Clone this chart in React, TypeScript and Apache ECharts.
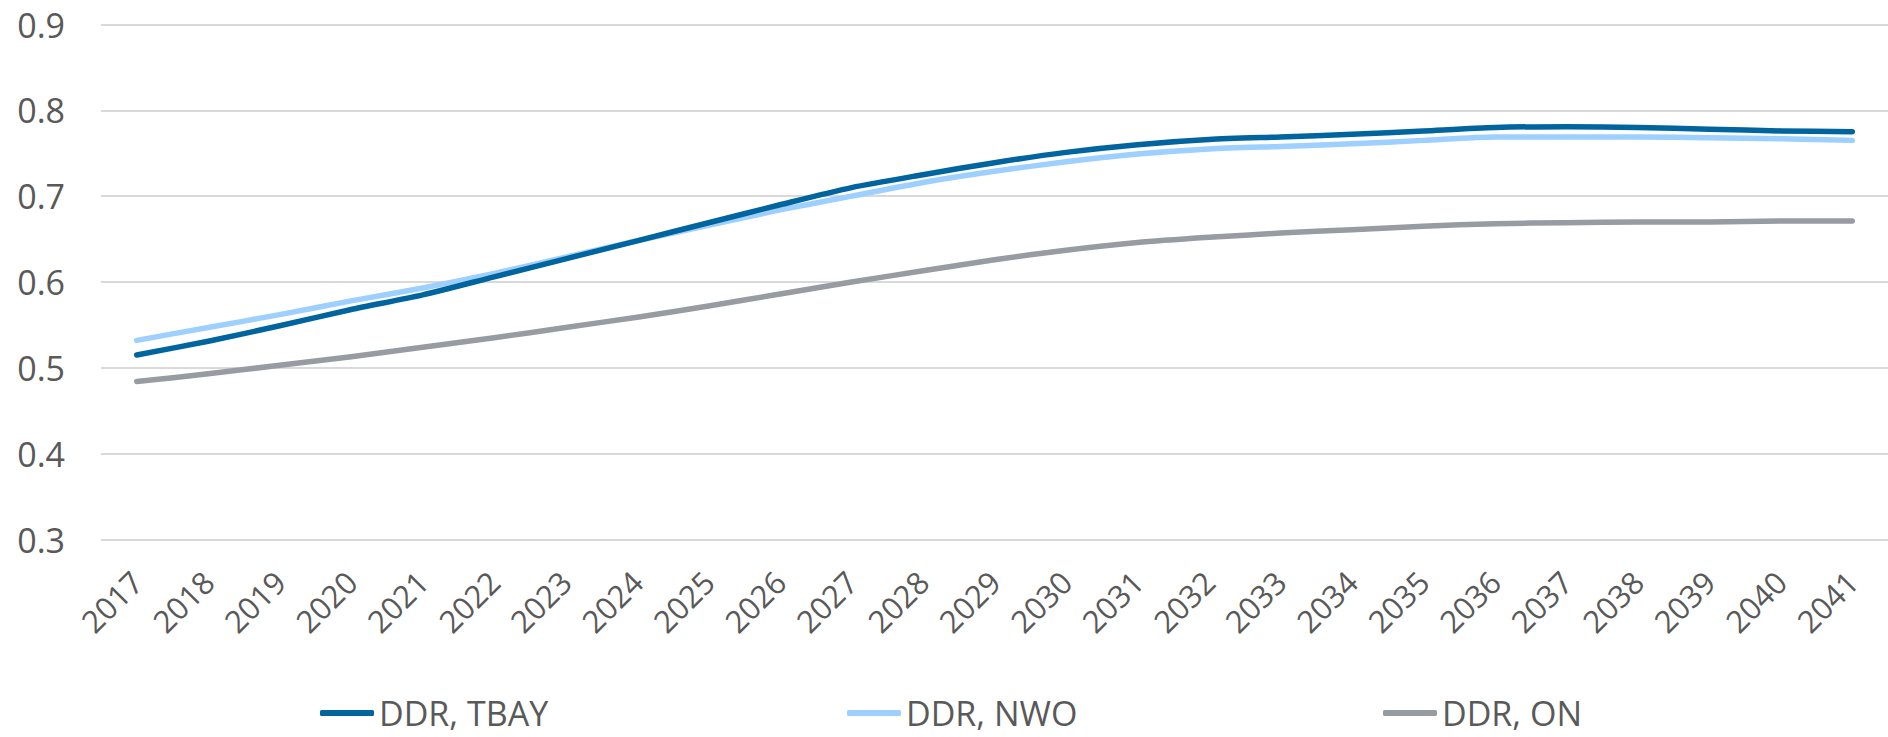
import React, { useEffect, useRef } from "react";
import * as echarts from "echarts";

const years = [
  "2017", "2018", "2019", "2020", "2021", "2022", "2023", "2024", "2025",
  "2026", "2027", "2028", "2029", "2030", "2031", "2032", "2033", "2034",
  "2035", "2036", "2037", "2038", "2039", "2040", "2041",
];

const ddrTbay = [
  0.515, 0.531, 0.549, 0.568, 0.585, 0.606, 0.627, 0.648, 0.669, 0.690,
  0.710, 0.725, 0.739, 0.751, 0.760, 0.766, 0.769, 0.772, 0.776, 0.780,
  0.781, 0.780, 0.778, 0.776, 0.775,
];

const ddrNwo = [
  0.532, 0.547, 0.562, 0.578, 0.593, 0.610, 0.629, 0.648, 0.666, 0.684,
  0.700, 0.716, 0.729, 0.740, 0.749, 0.755, 0.758, 0.761, 0.765, 0.769,
  0.769, 0.769, 0.768, 0.767, 0.765,
];

const ddrOn = [
  0.484, 0.493, 0.503, 0.513, 0.524, 0.535, 0.547, 0.559, 0.572, 0.586,
  0.600, 0.613, 0.626, 0.637, 0.646, 0.652, 0.657, 0.661, 0.665, 0.668,
  0.669, 0.670, 0.670, 0.671, 0.671,
];

const seriesNames = ["DDR, TBAY", "DDR, NWO", "DDR, ON"];
const seriesColors = ["#00649F", "#9DCFFF", "#969CA1"];
const legendLefts = [320, 847, 1383];

const FONT = "'Open Sans', 'Noto Sans', sans-serif";
const TEXT = "#595959";

export default function App() {
  const ref = useRef<HTMLDivElement>(null);

  useEffect(() => {
    if (!ref.current) return;
    const chart = echarts.init(ref.current, null, { renderer: "svg" });
    const data = [ddrTbay, ddrNwo, ddrOn];
    chart.setOption({
      animation: false,
      backgroundColor: "#ffffff",
      textStyle: { fontFamily: FONT },
      grid: { left: 101, right: -16, top: 24.5, bottom: 197.5, containLabel: false },
      legend: seriesNames.map((n, i) => ({
        data: [n],
        left: legendLefts[i],
        top: 694,
        padding: 0,
        icon: "roundRect",
        itemWidth: 54,
        itemHeight: 6,
        itemGap: 0,
        textStyle: { fontSize: 34, color: TEXT, fontFamily: FONT, lineHeight: 38 },
      })),
      xAxis: {
        type: "category",
        data: years,
        boundaryGap: true,
        axisLine: { show: false },
        axisTick: { show: false },
        axisLabel: {
          rotate: 45,
          interval: 0,
          margin: 37,
          fontSize: 31,
          color: TEXT,
          fontFamily: FONT,
        },
      },
      yAxis: {
        type: "value",
        min: 0.3,
        max: 0.9,
        interval: 0.1,
        axisLine: { show: false },
        axisTick: { show: false },
        axisLabel: {
          margin: 36,
          fontSize: 34,
          color: TEXT,
          fontFamily: FONT,
          formatter: (v: number) => v.toFixed(1),
        },
        splitLine: { lineStyle: { color: "#D9D9D9", width: 2 } },
      },
      series: seriesNames.map((n, i) => ({
        name: n,
        type: "line",
        data: data[i],
        smooth: 0.25,
        showSymbol: false,
        symbol: "none",
        itemStyle: { color: seriesColors[i] },
        lineStyle: { color: seriesColors[i], width: 5.5, cap: "round", join: "round" },
        z: 3 - i,
      })),
    });
    return () => chart.dispose();
  }, []);

  return (
    <div
      ref={ref}
      style={{ position: "absolute", left: 0, top: 0, width: 1888, height: 737, background: "#fff" }}
    />
  );
}
